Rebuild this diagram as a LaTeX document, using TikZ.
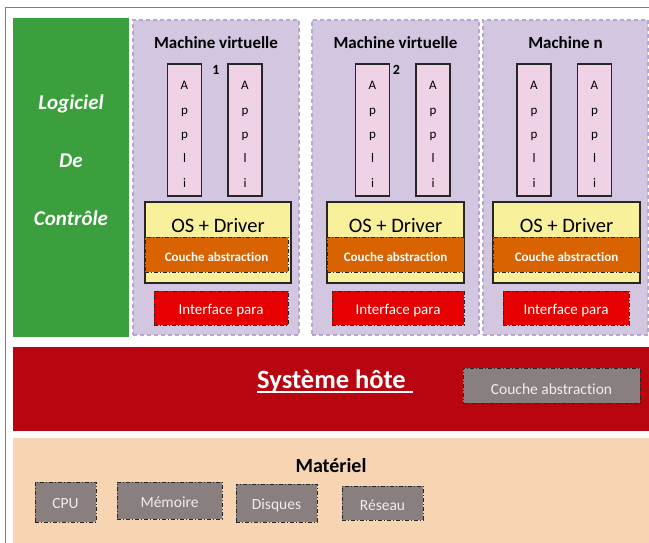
\documentclass[tikz,border=0pt]{standalone}
\usepackage{fontspec}
\setmainfont{Carlito}[Ligatures={NoCommon,NoDiscretionary}]
\definecolor{framecol}{HTML}{7F7F7F}
\definecolor{ctrlgreen}{HTML}{3A9F3C}
\definecolor{vmfill}{HTML}{D3C6E0}
\definecolor{vmline}{HTML}{B9A6CF}
\definecolor{appfill}{HTML}{EFD2E6}
\definecolor{osfill}{HTML}{F9F09B}
\definecolor{orangec}{HTML}{D96300}
\definecolor{ifacered}{HTML}{E60000}
\definecolor{hostred}{HTML}{B8050F}
\definecolor{peach}{HTML}{F7D5B3}
\definecolor{grayc}{HTML}{887F7E}
\definecolor{graytext}{HTML}{EEEEEE}
\definecolor{boxline}{HTML}{262626}
\tikzset{
  px/.style={x=1pt,y=-1pt},
  plain/.style={rectangle, inner sep=0pt, outer sep=0pt},
  % baseline of the label sits #1 below the node centre
  drop/.style={text height=2*#1, text depth=0pt},
  ctrlbox/.style={plain, fill=ctrlgreen},
  ctrltxt/.style={plain, text=white, font=\bfseries\itshape\fontsize{21}{21}\selectfont},
  vmbox/.style={plain, fill=vmfill, draw=vmline, line width=1.2pt, dash pattern=on 4pt off 3pt, minimum height=315pt},
  vmtitle/.style={plain, font=\bfseries\fontsize{17}{17}\selectfont},
  vmnum/.style={plain, font=\bfseries\fontsize{14}{14}\selectfont},
  appbox/.style={plain, fill=appfill, draw=boxline, line width=1.2pt, minimum width=34pt, minimum height=132pt},
  appletter/.style={plain, anchor=base, font=\fontsize{13}{13}\selectfont},
  osbox/.style={plain, fill=osfill, draw=boxline, line width=1.2pt, minimum height=81pt},
  ostxt/.style={plain, font=\fontsize{20.5}{20.5}\selectfont},
  dashdot/.style={draw=boxline, line width=1pt, dash pattern=on 4pt off 2pt on 1pt off 2pt},
  couche/.style={plain, dashdot, fill=orangec, minimum height=35pt, text=white, drop=7pt, font=\bfseries\fontsize{13}{13}\selectfont},
  iface/.style={plain, dashdot, fill=ifacered, minimum height=34pt, text=white, drop=6.3pt, font=\fontsize{15}{15}\selectfont},
  band/.style={plain, minimum width=636pt},
  hwbox/.style={plain, dashdot, fill=grayc, text=graytext, font=\fontsize{15.5}{15.5}\selectfont},
}
\begin{document}
\begin{tikzpicture}[px]
\useasboundingbox (0,0) rectangle (649,543);
% page frame
\draw[framecol, line width=1.6pt] (5.5,543) -- (5.5,7.5) -- (649,7.5);

% control software column
\node[ctrlbox, minimum width=116pt, minimum height=319pt] (ctrl) at (71,177.5) {};
\node[ctrltxt] (ctrl1) at (71,104) {Logiciel};
\node[ctrltxt] (ctrl2) at (71,161) {De};
\node[ctrltxt] (ctrl3) at (71,218) {Contrôle};

% virtual machines
\node[vmbox, minimum width=166pt] (vm1) at (216,177.5) {};
\node[vmbox, minimum width=167pt] (vm2) at (395.5,177.5) {};
\node[vmbox, minimum width=165pt] (vm3) at (565.5,177.5) {};
\node[vmtitle] (t1) at (216,42.5) {Machine virtuelle};
\node[vmtitle] (t2) at (395.5,42.5) {Machine virtuelle};
\node[vmtitle] (t3) at (565.5,42.5) {Machine n};
\node[vmnum] (n1) at (216,70) {1};
\node[vmnum] (n2) at (396.5,70) {2};

% application columns
\foreach \ax [count=\a] in {184.5,245,372.5,433,534,594.5} {
  \node[appbox] (app\a) at (\ax,130) {};
  \foreach \c [count=\k] in {A,p,p,l,i}
    \node[appletter] (app\a-\k) at (\ax,{89.5+24.5*(\k-1)}) {\c};
}

% guest OS layers
\node[osbox, minimum width=146pt] (os1) at (218,242.5) {};
\node[osbox, minimum width=137pt] (os2) at (395.5,242.5) {};
\node[osbox, minimum width=147pt] (os3) at (566.5,242.5) {};
\node[ostxt] (ost1) at (218,225.5) {OS + Driver};
\node[ostxt] (ost2) at (395.5,225.5) {OS + Driver};
\node[ostxt] (ost3) at (566.5,225.5) {OS + Driver};
\node[couche, minimum width=143pt] (ca1) at (216.5,254.5) {Couche abstraction};
\node[couche, minimum width=137pt] (ca2) at (395.5,254.5) {Couche abstraction};
\node[couche, minimum width=147pt] (ca3) at (566.5,254.5) {Couche abstraction};
\node[iface, minimum width=134pt] (if1) at (221,308) {Interface para};
\node[iface, minimum width=132pt] (if2) at (398,308) {Interface para};
\node[iface, minimum width=126pt] (if3) at (566,308) {Interface para};

% host system
\node[band, fill=hostred, minimum height=84pt] (host) at (331,389) {};
\node[plain, anchor=base, text=white, font=\bfseries\fontsize{26.5}{26.5}\selectfont] (hosttxt) at (331.5,388) {Système hôte};
\draw[white, line width=2pt] ([yshift=-4pt]hosttxt.base west) -- ([xshift=7pt,yshift=-4pt]hosttxt.base east);
\node[hwbox, drop=8.5pt, minimum width=177pt, minimum height=35pt] (hostca) at (551.5,385.5) {Couche abstraction};

% hardware
\node[band, fill=peach, minimum height=106pt] (hw) at (331,491) {};
\node[plain, font=\bfseries\fontsize{20}{20}\selectfont] (hwtxt) at (331,466) {Matériel};
\node[hwbox, drop=6.3pt, minimum width=61pt, minimum height=40pt] (cpu) at (65.5,502) {CPU};
\node[hwbox, drop=6.8pt, minimum width=105pt, minimum height=37pt] (mem) at (169.5,500.5) {Mémoire};
\node[hwbox, drop=6.3pt, minimum width=81pt, minimum height=38pt] (disk) at (276.5,503) {Disques};
\node[hwbox, drop=7.7pt, minimum width=81pt, minimum height=34pt] (net) at (382.5,503) {Réseau};
\end{tikzpicture}
\end{document}
